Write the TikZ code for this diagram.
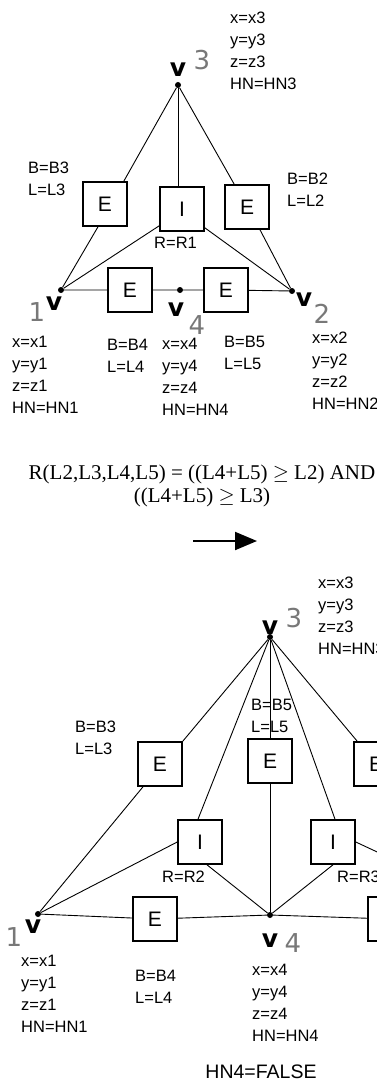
\documentclass[tikz,border=0pt]{standalone}
\usepackage{fontspec}
\setmainfont{Liberation Sans}
\newfontfamily\serifface{Liberation Serif}
\newfontfamily\glyphface{DejaVu Sans}
\usetikzlibrary{arrows.meta}
\definecolor{numgray}{gray}{0.47}

\begin{document}
\begin{tikzpicture}[x=1pt,y=-1pt,
  vtx/.style={circle,fill=black,inner sep=0pt,minimum size=6pt},
  ebox/.style={draw,line width=1.6pt,minimum size=44pt,inner sep=0pt,
    font=\fontsize{21}{21}\selectfont},
  lbl/.style={font=\fontsize{16.5}{22}\selectfont,align=left,anchor=west,inner sep=0pt},
  vlet/.style={font=\glyphface\bfseries\fontsize{25}{25}\selectfont,inner sep=0pt},
  num/.style={font=\glyphface\fontsize{26}{26}\selectfont,text=numgray,inner sep=0pt},
  conn/.style={line width=0.9pt}
]
\useasboundingbox (0,0) rectangle (377,1086);
\clip (0,0) rectangle (377,1086);

% ---------- upper graph ----------
\node[vtx] (V3) at (178,85) {};
\node[vtx] (V1) at (61,290) {};
\node[vtx] (V4) at (180,290) {};
\node[vtx] (V2) at (292,291) {};

\node[ebox] (E3) at (105,204) {E};
\node[ebox] (I1) at (182,209) {I};
\node[ebox] (E2) at (247,207) {E};
\node[ebox] (E4) at (130,290) {E};
\node[ebox] (E5) at (226,290) {E};

\draw[conn] (V3) -- ([xshift=-4pt]E3.north east);
\draw[conn] (V3) -- (V3 |- I1.north);
\draw[conn] (V3) -- ([xshift=10pt]E2.north west);
\draw[conn] (V1) -- ([xshift=-7pt]E3.south);
\draw[conn] (V1) -- ([yshift=6pt]I1.south west);
\draw[conn] ([yshift=4pt]I1.south east) -- (V2);
\draw[conn] ([xshift=13pt]E2.south) -- (V2);
\draw[conn] (V1) -- (E4) -- (V4) -- (E5) -- (V2);

\node[vlet] (v3) at (178,70) {v};
\node[num]  (n3) at (202,60) {3};
\node[vlet] (v1) at (54,304) {v};
\node[num]  (n1) at (37,312) {1};
\node[vlet] (v4) at (176,310) {v};
\node[num]  (n4) at (197,325) {4};
\node[vlet] (v2) at (304,300) {v};
\node[num]  (n2) at (322,314) {2};

\node[lbl] (a3) at (230,50.5) {x=x3\\y=y3\\z=z3\\HN=HN3};
\node[lbl] (b3) at (28,178.5) {B=B3\\L=L3};
\node[lbl] (b2) at (287,189.5) {B=B2\\L=L2};
\node[lbl] (r1) at (154,243) {R=R1};
\node[lbl] (a1) at (12,375) {x=x1\\y=y1\\z=z1\\HN=HN1};
\node[lbl] (b4) at (107,355.5) {B=B4\\L=L4};
\node[lbl] (a4) at (162,377) {x=x4\\y=y4\\z=z4\\HN=HN4};
\node[lbl] (b5) at (224,353) {B=B5\\L=L5};
\node[lbl] (a2) at (312,370.5) {x=x2\\y=y2\\z=z2\\HN=HN2};

\node[font=\serifface\fontsize{21}{23}\selectfont,align=center,inner sep=0pt]
  (rule) at (202,485.5) {R(L2,L3,L4,L5) = ((L4+L5) $\geq$ L2) AND\\((L4+L5) $\geq$ L3)};

% ---------- production arrow ----------
\coordinate (arrS) at (193,541);
\coordinate (arrE) at (257,541);
\draw[line width=2pt,-{Triangle[length=22pt,width=18pt]}] (arrS) -- (arrE);

% ---------- lower graph ----------
\node[vtx] (V3b) at (270,637) {};
\node[vtx] (V1b) at (38,914) {};
\node[vtx] (V4b) at (270,915) {};
\node[vtx] (V2b) at (510,914) {};

\node[ebox] (E3b) at (160,764) {E};
\node[ebox] (Emb) at (270,761) {E};
\node[ebox] (E2b) at (376,764) {E};
\node[ebox] (I2b) at (200,842) {I};
\node[ebox] (I3b) at (333,842) {I};
\node[ebox] (E4b) at (155,919) {E};
\node[ebox] (E5b) at (390,919) {E};

\draw[conn] (V3b) -- (E3b.north east);
\draw[conn] (V3b) -- ([xshift=-2pt]I2b.north);
\draw[conn] (V3b) -- (Emb.north);
\draw[conn] (Emb.south) -- (V4b);
\draw[conn] (V3b) -- ([xshift=2pt]I3b.north);
\draw[conn] (V3b) -- ([xshift=4pt]E2b.north west);
\draw[conn] (V1b) -- ([xshift=-17pt]E3b.south);
\draw[conn] (V1b) -- (I2b.west);
\draw[conn] ([xshift=7pt]I2b.south) -- (V4b);
\draw[conn] (I3b.south) -- (V4b);
\draw[conn] (I3b.east) -- (V2b);
\draw[conn] ([xshift=17pt]E2b.south) -- (V2b);
\draw[conn] (V1b) -- (E4b) -- (V4b) -- (E5b) -- (V2b);

\node[vlet] (v3b) at (270,628) {v};
\node[num]  (n3b) at (294,618) {3};
\node[vlet] (v1b) at (33,927) {v};
\node[num]  (n1b) at (14,937) {1};
\node[vlet] (v4b) at (270,941) {v};
\node[num]  (n4b) at (293,943) {4};

\node[lbl] (a3b) at (318,615.5) {x=x3\\y=y3\\z=z3\\HN=HN3};
\node[lbl] (b3b) at (75,738) {B=B3\\L=L3};
\node[lbl] (b5b) at (251,715.5) {B=B5\\L=L5};
\node[lbl] (r2b) at (162,877) {R=R2};
\node[lbl] (r3b) at (337,877) {R=R3};
\node[lbl] (a1b) at (21,993.5) {x=x1\\y=y1\\z=z1\\HN=HN1};
\node[lbl] (b4b) at (135,987) {B=B4\\L=L4};
\node[lbl] (a4b) at (252,1003) {x=x4\\y=y4\\z=z4\\HN=HN4};

\node[font=\fontsize{19.5}{20}\selectfont,inner sep=0pt] (hn4) at (261,1072) {HN4=FALSE};
\end{tikzpicture}
\end{document}
